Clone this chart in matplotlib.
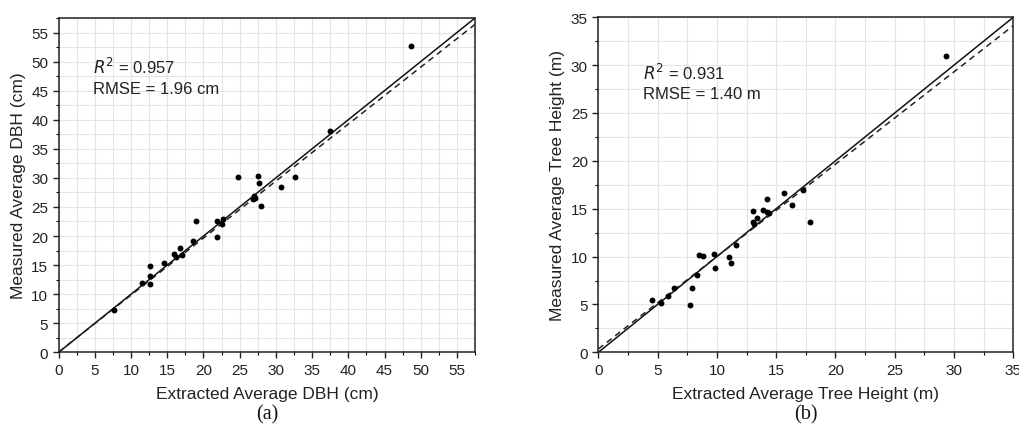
import matplotlib
matplotlib.use("Agg")
import matplotlib.pyplot as plt
import numpy as np
from matplotlib.ticker import MultipleLocator

plt.rcParams['font.family'] = ['Liberation Sans', 'DejaVu Sans']

# Panel (a): DBH (cm)
dbh_extracted = [7.7, 11.5, 12.6, 12.6, 12.6, 14.6, 15.9, 16.2, 16.8, 17.1, 18.6, 19.0,
                 21.8, 21.9, 22.6, 22.7, 24.7, 26.9, 27.0, 27.1, 27.5, 27.7, 27.9, 30.7,
                 32.7, 37.5, 48.7]
dbh_measured = [7.3, 12.0, 14.9, 13.2, 11.7, 15.4, 16.9, 16.4, 18.0, 16.7, 19.2, 22.5,
                19.8, 22.6, 22.1, 22.9, 30.2, 26.3, 26.9, 26.6, 30.4, 29.2, 25.2, 28.5,
                30.1, 38.1, 52.7]
dbh_fit = (0.980, 0.05)

# Panel (b): tree height (m)
h_extracted = [4.55, 5.3, 5.9, 6.4, 7.76, 7.93, 8.3, 8.52, 8.86, 9.73, 9.81, 11.06, 11.16,
               11.61, 13.07, 13.07, 13.13, 13.38, 13.86, 14.2, 14.2, 14.37, 15.69, 16.34,
               17.3, 17.85, 29.3]
h_measured = [5.47, 5.15, 5.9, 6.69, 4.91, 6.69, 8.08, 10.17, 10.05, 10.31, 8.81, 10.0, 9.3,
              11.23, 14.78, 13.65, 13.41, 14.05, 14.85, 15.99, 14.63, 14.52, 16.61, 15.42,
              16.99, 13.62, 31.0]
h_fit = (0.965, 0.35)

fig = plt.figure(figsize=(10.2, 4.35), dpi=100)

panels = [
    dict(rect=[0.0575, 0.1878, 0.4082, 0.7685], x=dbh_extracted, y=dbh_measured, fit=dbh_fit,
         lim=57.5, xlabel='Extracted Average DBH (cm)', ylabel='Measured Average DBH (cm)',
         r2='0.957', rmse='RMSE = 1.96 cm', tpos=(0.083, 0.857, 0.79), tag='(a)'),
    dict(rect=[0.5866, 0.1878, 0.4068, 0.7702], x=h_extracted, y=h_measured, fit=h_fit,
         lim=35, xlabel='Extracted Average Tree Height (m)', ylabel='Measured Average Tree Height (m)',
         r2='0.931', rmse='RMSE = 1.40 m', tpos=(0.107, 0.836, 0.773), tag='(b)'),
]

for p in panels:
    ax = fig.add_axes(p['rect'])
    lim = p['lim']
    ax.set_xlim(0, lim)
    ax.set_ylim(0, lim)
    ax.xaxis.set_major_locator(MultipleLocator(5))
    ax.yaxis.set_major_locator(MultipleLocator(5))
    ax.xaxis.set_minor_locator(MultipleLocator(2.5))
    ax.yaxis.set_minor_locator(MultipleLocator(2.5))
    ax.grid(True, which='both', color='#e4e4e4', linewidth=0.8, zorder=0)
    ax.set_axisbelow(True)
    ax.tick_params(which='major', direction='out', length=4, width=1, labelsize=11,
                   colors='#222222', top=False, right=False)
    ax.tick_params(which='minor', direction='out', length=2.5, width=0.8,
                   top=False, right=False)
    for s in ax.spines.values():
        s.set_linewidth(1.1)
        s.set_color('#222222')
    xs = np.array([0, lim])
    ax.plot(xs, xs, color='#111111', lw=1.1, zorder=2)
    a, b = p['fit']
    ax.plot(xs, a * xs + b, color='#222222', lw=1.1, ls=(0, (4, 3)), zorder=2)
    ax.scatter(p['x'], p['y'], s=18, color='black', zorder=3, linewidths=0)
    ax.set_xlabel(p['xlabel'], fontsize=12.5, color='#222222', labelpad=7)
    ax.set_ylabel(p['ylabel'], fontsize=12.5, color='#222222', labelpad=4)
    tx, ty1, ty2 = p['tpos']
    ax.text(tx, ty1, r'$R^2$ = ' + p['r2'], transform=ax.transAxes, fontsize=12,
            va='center', ha='left', color='#222222')
    ax.text(tx, ty2, p['rmse'], transform=ax.transAxes, fontsize=12,
            va='center', ha='left', color='#222222')
    ax.text(0.5, -0.185, p['tag'], transform=ax.transAxes, fontsize=14.5, ha='center',
            va='center', family=['Liberation Serif', 'DejaVu Serif'], color='#111111')

fig.savefig('out.png', dpi=100)
